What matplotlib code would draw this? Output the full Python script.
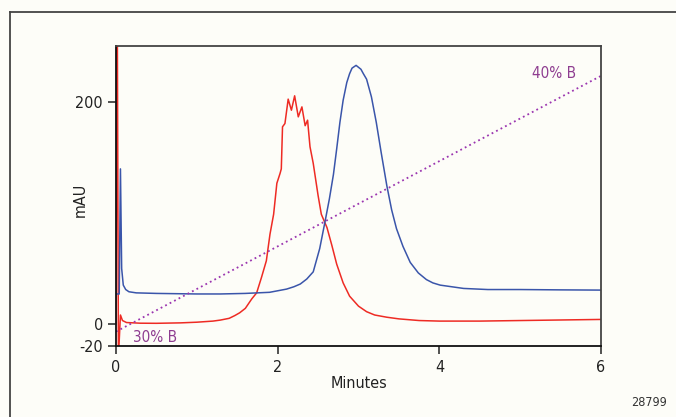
import matplotlib.pyplot as plt
from matplotlib.lines import Line2D

# trace data (minutes, mAU)
red_t = [0.0, 0.015, 0.03, 0.055, 0.08, 0.13, 0.3, 0.5, 0.8, 1.0, 1.2, 1.29, 1.4, 1.47, 1.53,
         1.6, 1.68, 1.74, 1.80, 1.86, 1.905, 1.95, 1.99, 2.03, 2.045, 2.06, 2.09, 2.13, 2.17,
         2.21, 2.255, 2.30, 2.34, 2.37, 2.40, 2.44, 2.50, 2.54, 2.61, 2.67, 2.73, 2.81, 2.89,
         3.00, 3.1, 3.2, 3.35, 3.5, 3.75, 4.0, 4.5, 5.0, 5.5, 6.0]
red_v = [0, 300, -30, 8, 3, 1.2, 0.6, 0.5, 0.9, 1.5, 2.5, 3.4, 5, 7.5, 10,
         14, 22.6, 28, 42, 57, 81, 99, 127, 136, 140, 178, 181, 203, 193,
         206, 187, 196, 179, 184, 160, 145, 116, 99, 87, 71, 54, 37, 25,
         16, 11, 8, 6, 4.5, 3, 2.5, 2.5, 3, 3.5, 4]

blue_t = [0.0, 0.04, 0.055, 0.07, 0.09, 0.12, 0.16, 0.25, 0.5, 1.0, 1.29, 1.6, 1.9, 2.11,
          2.2, 2.28, 2.36, 2.44, 2.52, 2.585, 2.64, 2.69, 2.73, 2.77, 2.81, 2.855, 2.89,
          2.92, 2.97, 3.03, 3.06, 3.10, 3.16, 3.22, 3.28, 3.35, 3.41, 3.47, 3.55, 3.64,
          3.74, 3.84, 3.92, 4.01, 4.3, 4.6, 5.0, 5.5, 6.0]
blue_v = [27, 27, 140, 50, 35, 31, 29, 28, 27.5, 27, 27, 27.5, 28.5, 31.4,
          33.5, 36, 40.5, 47, 68, 92, 113, 135, 158, 182, 202, 218, 226,
          231, 233.5, 230, 226, 221, 205, 182, 155, 125, 103, 86, 70, 55.5,
          46, 40, 37, 35, 32, 31, 31, 30.7, 30.5]

grad_t = [0, 6]
grad_v = [-7, 224]

plt.rcParams['font.family'] = ['DejaVu Sans']
plt.rcParams['font.stretch'] = 'condensed'
plt.rcParams['axes.unicode_minus'] = False
bg = '#fdfdf8'

fig = plt.figure(figsize=(6.76, 4.17), dpi=100, facecolor=bg)
ax = fig.add_axes([116 / 676, 71 / 417, 485 / 676, 300 / 417])
ax.set_facecolor(bg)

ax.plot(red_t, red_v, color='#ee2b24', lw=1.1)
ax.plot(blue_t, blue_v, color='#3a55aa', lw=1.1)
ax.plot(grad_t, grad_v, color='#9b35b0', lw=1.3, dashes=(1, 1.8))

ax.text(0.21, -12, '30% B', color='#8e3d90', fontsize=11, va='center', ha='left')
ax.text(5.15, 226, '40% B', color='#8e3d90', fontsize=11, va='center', ha='left')

ax.set_xlim(0, 6)
ax.set_ylim(-20, 251)
ax.set_xticks([0, 2, 4, 6])
ax.set_yticks([-20, 0, 200])
ax.tick_params(direction='out', length=6, width=1.1, labelsize=11.5, colors='#222222')
ax.tick_params(axis='x', pad=4)
ax.set_xlabel('Minutes', fontsize=11.5, color='#222222', labelpad=1)
ax.set_ylabel('mAU', fontsize=11.5, color='#222222')
ax.yaxis.set_label_coords(-0.0588, 0.487)
for side in ['left', 'bottom']:
    ax.spines[side].set_linewidth(1.3)
    ax.spines[side].set_color('#111111')
for side in ['top', 'right']:
    ax.spines[side].set_linewidth(1.3)
    ax.spines[side].set_color('#444444')

# outer frame (top and left only)
fx = 10 / 676
fy = 1 - 12 / 417
fig.add_artist(Line2D([fx, 1], [fy, fy], color='#444444', lw=1.3))
fig.add_artist(Line2D([fx, fx], [0, fy], color='#444444', lw=1.3))

fig.text(667 / 676, 1 - 403 / 417, '28799', fontsize=9, ha='right', va='center', color='#333333')

plt.savefig('out.png', dpi=100, facecolor=bg)
